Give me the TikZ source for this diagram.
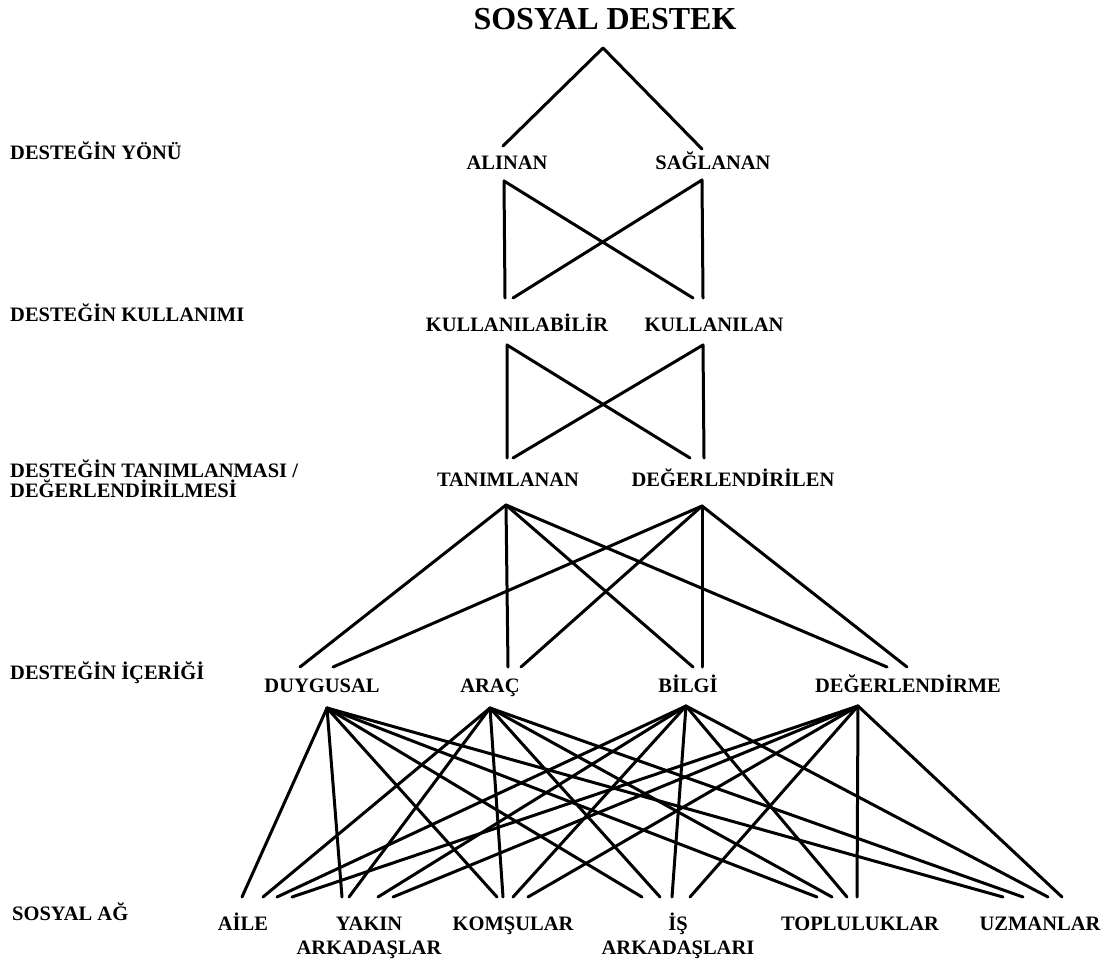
\documentclass[tikz,border=0pt]{standalone}
\usepackage{fontspec}
\IfFontExistsTF{LiberationSerif-Bold.ttf}
  {\setmainfont{LiberationSerif}[Extension=.ttf, UprightFont=*-Regular, BoldFont=*-Bold]}
  {\setmainfont{Liberation Serif}}
\begin{document}
\begin{tikzpicture}[x=1pt,y=-1pt,
  lbl/.style={inner sep=0pt, anchor=base, font=\fontsize{20.5}{24}\selectfont\bfseries},
  side/.style={lbl, anchor=base west, align=left, font=\fontsize{20.5}{20}\selectfont\bfseries},
  twoline/.style={lbl, align=center},
  link/.style={line width=3pt, line cap=round, line join=round}]
\path[use as bounding box] (0,0) rectangle (1111,963);

% ---- labels (multi-line nodes sit on the baseline of their last line) ----
\node[inner sep=0pt, anchor=base, font=\fontsize{32}{36}\selectfont\bfseries] (title) at (605,30) {SOSYAL DESTEK};

\node[side] (l-yon) at (10,160) {DESTEĞİN YÖNÜ};
\node[side] (l-kul) at (10,321) {DESTEĞİN KULLANIMI};
\node[side] (l-tan) at (10,497) {DESTEĞİN TANIMLANMASI /\\DEĞERLENDİRİLMESİ};
\node[side] (l-ice) at (10,679) {DESTEĞİN İÇERİĞİ};
\node[side] (l-ag)  at (12,920) {SOSYAL AĞ};

\node[lbl] (alinan)   at (507,169.5) {ALINAN};
\node[lbl] (saglanan) at (713,169.5) {SAĞLANAN};
\node[lbl] (kab) at (517,331) {KULLANILABİLİR};
\node[lbl] (kan) at (714,331) {KULLANILAN};
\node[lbl] (tan) at (508,486) {TANIMLANAN};
\node[lbl] (dgl) at (733,486) {DEĞERLENDİRİLEN};

\node[lbl] (duy)   at (322,692) {DUYGUSAL};
\node[lbl] (arac)  at (490,692) {ARAÇ};
\node[lbl] (bilgi) at (688,692) {BİLGİ};
\node[lbl] (dm)    at (908,692) {DEĞERLENDİRME};

\node[lbl]     (aile)  at (243,930) {AİLE};
\node[twoline] (yakin) at (369,954) {YAKIN\\ARKADAŞLAR};
\node[lbl]     (komsu) at (513,930) {KOMŞULAR};
\node[twoline] (is)    at (678,954) {İŞ\\ARKADAŞLARI};
\node[lbl]     (toplu) at (860,930) {TOPLULUKLAR};
\node[lbl]     (uzman) at (1040,930) {UZMANLAR};

% ---- connector ends ----
\coordinate (title-out) at (603,48);
\coordinate (alinan-in) at (503,146);
\coordinate (saglanan-in) at (702,149);

\coordinate (alinan-out) at (504,181);
\coordinate (saglanan-out) at (702,180);
\coordinate (kab-in-a) at (505,298);
\coordinate (kab-in-s) at (513,298);
\coordinate (kan-in-a) at (693,298);
\coordinate (kan-in-s) at (703,298);

\coordinate (kab-out) at (507,345);
\coordinate (kan-out) at (703,345);
\coordinate (tan-in-k) at (507,458);
\coordinate (tan-in-l) at (513,458);
\coordinate (dgl-in-k) at (690,458);
\coordinate (dgl-in-l) at (704,458);

\coordinate (tan-out) at (506,505);
\coordinate (dgl-out) at (702,506);
\foreach \n/\xt/\xd in {duy/300/333, arac/508/521, bilgi/693/702, dm/887/907}{
  \coordinate (\n-in-t) at (\xt,667);
  \coordinate (\n-in-d) at (\xd,667);
}

\coordinate (duy-out)   at (327,708);
\coordinate (arac-out)  at (490,708);
\coordinate (bilgi-out) at (686,706);
\coordinate (dm-out)    at (858,706);
\foreach \n/\xa/\xb/\xc/\xd in {aile/242/263/277/292, yakin/342/349/378/393,
    komsu/497/503/513/528, is/642/660/672/690, toplu/817/832/847/857,
    uzman/1003/1023/1048/1062}{
  \coordinate (\n-in1) at (\xa,897);
  \coordinate (\n-in2) at (\xb,897);
  \coordinate (\n-in3) at (\xc,897);
  \coordinate (\n-in4) at (\xd,897);
}

% ---- connectors ----
\draw[link] (alinan-in) -- (title-out) -- (saglanan-in);

\draw[link] (kab-in-a) -- (alinan-out) -- (kan-in-a);
\draw[link] (kab-in-s) -- (saglanan-out) -- (kan-in-s);

\draw[link] (tan-in-k) -- (kab-out) -- (dgl-in-k);
\draw[link] (tan-in-l) -- (kan-out) -- (dgl-in-l);

\foreach \n in {duy, arac, bilgi, dm}{
  \draw[link] (tan-out) -- (\n-in-t);
  \draw[link] (dgl-out) -- (\n-in-d);
}

\foreach \s [count=\i] in {duy, arac, bilgi, dm}{
  \foreach \t in {aile, yakin, komsu, is, toplu, uzman}{
    \draw[link] (\s-out) -- (\t-in\i);
  }
}
\end{tikzpicture}
\end{document}
